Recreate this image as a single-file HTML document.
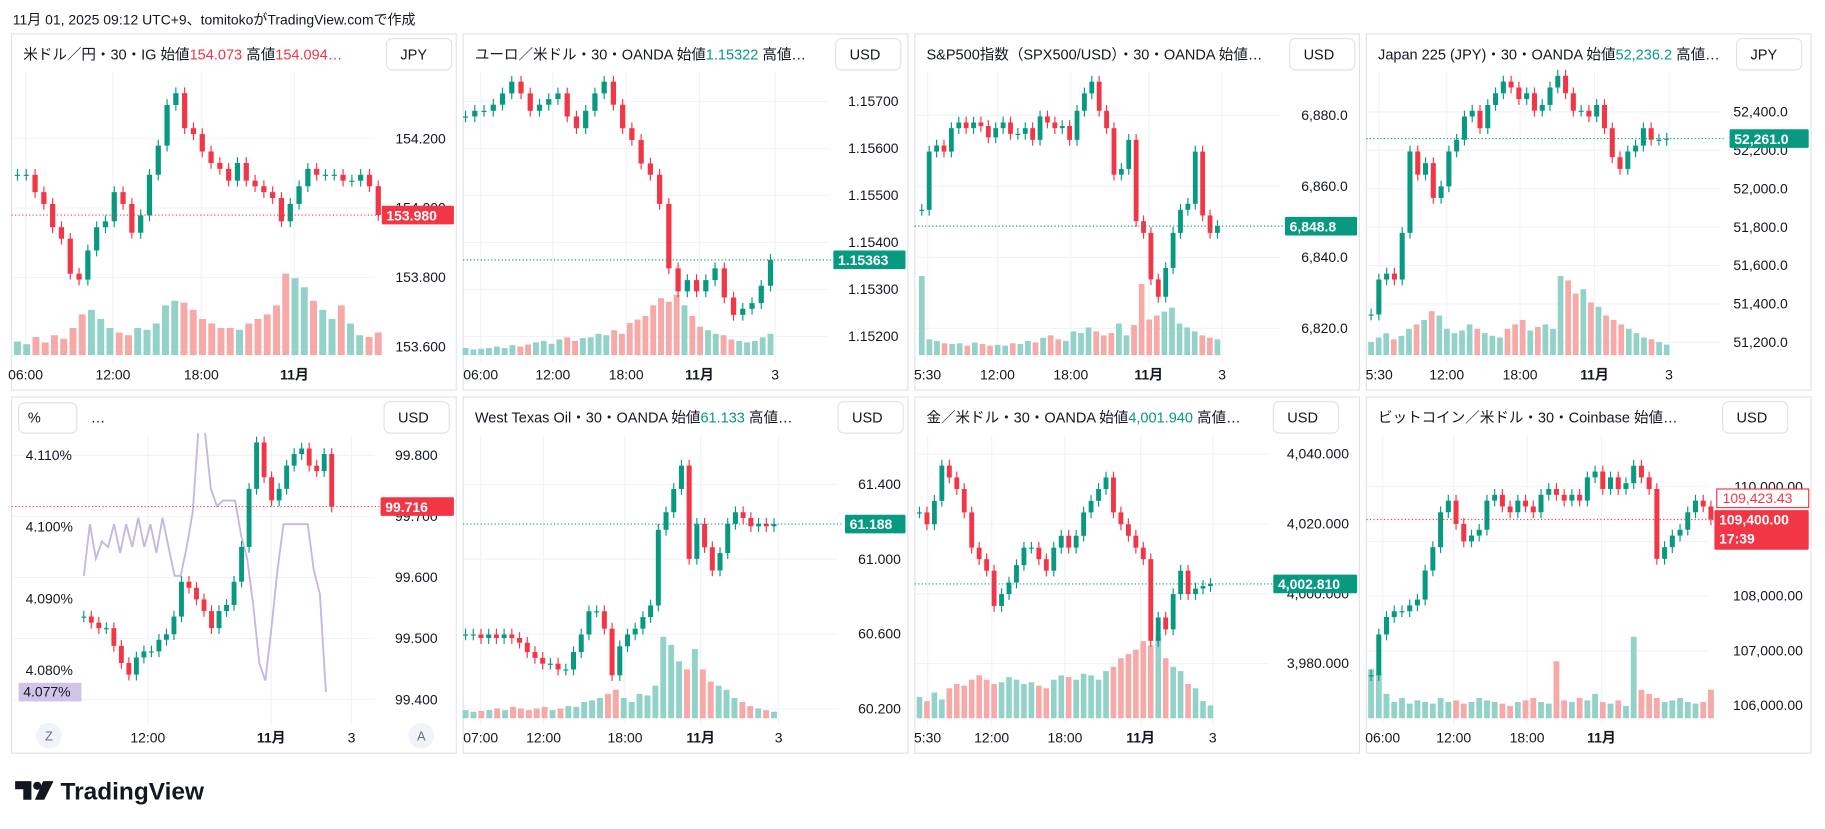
<!DOCTYPE html>
<html><head><meta charset="utf-8">
<style>
html,body{margin:0;padding:0;background:#fff;width:1825px;height:829px;overflow:hidden}
svg{display:block;font-family:"Liberation Sans","Noto Sans CJK JP",sans-serif}
</style></head>
<body>
<svg id="chart" width="1825" height="829" viewBox="0 0 1568 712" xmlns="http://www.w3.org/2000/svg">
<text x="11" y="21" font-size="12" fill="#131722">11月 01, 2025 09:12 UTC+9、tomitokoがTradingView.comで作成</text>
<g>
<path d="M13 671 h14 v16 h-7 v-9 h-7z" fill="#131722"/>
<circle cx="32" cy="675" r="3.5" fill="#131722"/>
<path d="M37 671 h9 l-8 16 h-8z" fill="#131722"/>
<text x="52" y="687" font-size="21" font-weight="bold" fill="#131722">TradingView</text>
</g>
</svg>
<script>
// ===== data =====
const p1Close=[154.096,154.096,154.046,154.012,153.945,153.912,153.811,153.794,153.878,153.945,153.962,154.046,154.012,153.929,153.979,154.096,154.180,154.297,154.331,154.230,154.213,154.163,154.130,154.113,154.079,154.130,154.079,154.063,154.046,154.029,153.962,154.012,154.063,154.113,154.096,154.096,154.096,154.079,154.079,154.096,154.063,153.980];
const p1Vol=[15,12,20,14,22,18,30,45,50,40,30,25,22,30,28,35,55,60,58,50,40,35,30,30,28,35,40,45,55,90,85,75,60,50,40,55,35,22,20,25];
const p1Ticks=[154.2,154.0,153.8,153.6];
const p1Times=['06:00','12:00','18:00','11月'];

const p2Close=[1.15668,1.1568,1.1568,1.15693,1.15717,1.15742,1.15717,1.1568,1.15693,1.15705,1.15717,1.15668,1.15643,1.1568,1.15717,1.15742,1.15693,1.15643,1.15618,1.15568,1.15544,1.15482,1.15345,1.15296,1.1532,1.15296,1.1532,1.15345,1.15283,1.15246,1.15259,1.15271,1.15308,1.15363];
const p2Vol=[10,8,9,10,12,10,14,12,15,18,20,16,22,25,20,24,25,30,28,35,30,45,50,55,70,80,75,85,70,55,40,35,30,28,22,20,18,20,25,30];
const p2Ticks=[1.157,1.156,1.155,1.154,1.153,1.152];
const p2Times=['06:00','12:00','18:00','11月','3'];

const p3Close=[6853.4,6869.8,6871.5,6869.8,6876.4,6878,6876.4,6878,6877,6873.8,6876.4,6878,6874.8,6874.8,6876.4,6873.1,6879.7,6878,6876.4,6877,6873.1,6881.3,6886.2,6889.5,6881.3,6876.4,6863.3,6864.9,6873.1,6850.2,6846.9,6833.8,6828.9,6837,6846.9,6853.4,6855.1,6869.8,6851.8,6846.9,6848.8];
const p3Vol=[100,20,18,15,14,15,12,16,14,12,13,12,15,14,18,16,22,25,20,18,30,28,35,30,25,28,40,25,38,90,45,50,55,60,40,35,30,25,22,20];
const p3Ticks=[6880,6860,6840,6820];
const p3Times=['5:30','12:00','18:00','11月','3'];

const p4Close=[51345,51527,51558,51527,51770,52194,52073,52133,51952,52012,52194,52255,52376,52406,52315,52436,52497,52558,52527,52467,52497,52406,52436,52527,52588,52497,52406,52406,52376,52436,52315,52164,52103,52194,52224,52315,52255,52255,52261];
const p4Vol=[15,20,25,18,22,30,35,40,50,45,30,25,28,35,30,25,22,20,30,35,40,28,32,35,30,90,85,70,75,60,55,45,40,35,30,25,20,18,15,12];
const p4Ticks=[52400,52200,52000,51800,51600,51400,51200];
const p4Times=['5:30','12:00','18:00','11月','3'];

const p5Close=[99.536,99.526,99.517,99.517,99.488,99.46,99.441,99.469,99.479,99.479,99.498,99.507,99.536,99.593,99.583,99.564,99.545,99.517,99.545,99.555,99.593,99.65,99.745,99.821,99.764,99.726,99.745,99.783,99.802,99.811,99.783,99.774,99.802,99.716];
const p5Yield=[4.0932,4.1004,4.0956,4.098,4.0972,4.1004,4.0964,4.1004,4.0972,4.1013,4.0972,4.1004,4.0964,4.1013,4.0972,4.0932,4.0932,4.0972,4.1021,4.1142,4.1134,4.1053,4.1029,4.1037,4.1037,4.1037,4.0988,4.0956,4.0891,4.081,4.0786,4.0859,4.094,4.1004,4.1004,4.1004,4.1004,4.1004,4.094,4.0907,4.077];
const p5Ticks=[99.8,99.7,99.6,99.5,99.4];
const p5PctTicks=[4.11,4.10,4.09,4.08];
const p5Times=['12:00','11月','3'];

const p6Close=[60.598,60.598,60.579,60.598,60.579,60.598,60.579,60.554,60.504,60.473,60.442,60.442,60.411,60.411,60.504,60.598,60.722,60.722,60.629,60.38,60.535,60.598,60.629,60.691,60.753,61.157,61.251,61.375,61.5,61.002,61.189,61.064,60.94,61.033,61.189,61.251,61.22,61.176,61.189,61.176,61.188];
const p6Vol=[10,8,9,10,12,10,14,12,10,12,14,10,12,15,14,20,22,25,30,35,25,20,30,28,40,100,90,70,60,85,60,45,40,35,25,20,15,12,10,8];
const p6Ticks=[61.4,61.0,60.6,60.2];
const p6Times=['07:00','12:00','18:00','11月','3'];

const p7Close=[4023.3,4019.9,4026.6,4036.7,4033.3,4030,4023.3,4013.2,4009.9,4006.6,3996.5,3999.9,4003.2,4008.2,4013.2,4013.2,4009.9,4006.6,4013.2,4016.6,4013.2,4016.6,4023.3,4026.6,4030,4033.3,4023.3,4019.9,4016.6,4013.2,4009.9,3986.5,3993.2,3989.8,3999.9,4006.6,3999.9,4001.5,4002.2,4002.81];
const p7Vol=[25,20,30,22,35,40,38,45,50,45,40,42,48,45,40,42,38,35,45,50,48,45,52,50,45,55,60,70,75,80,90,85,95,70,60,55,40,35,20,15];
const p7Ticks=[4040,4020,4000,3980];
const p7Times=['5:30','12:00','18:00','11月','3'];

const p8Close=[106553,107298,107617,107723,107723,107830,107936,108468,108894,109532,109745,109319,109000,109106,109213,109745,109851,109638,109532,109745,109638,109532,109851,109957,109851,109745,109851,109745,110170,110277,109957,110170,109957,110064,110383,110170,109957,108681,108894,109106,109213,109532,109745,109638,109400];
const p8Vol=[60,55,30,20,25,18,22,20,18,25,20,22,18,20,25,22,20,18,15,20,22,25,20,18,70,22,20,25,22,30,20,18,22,15,100,35,30,25,20,22,25,20,18,20,35];
const p8Ticks=[110000,109000,108000,107000,106000];
const p8Times=['06:00','12:00','18:00','11月'];

// ===== rendering =====
const NS='http://www.w3.org/2000/svg';
const svg=document.getElementById('chart');
const UP='#089981',DN='#f23645',UPV='#92d2c8',DNV='#f7a9a7';
function el(tag,attrs,parent){const e=document.createElementNS(NS,tag);for(const k in attrs)e.setAttribute(k,attrs[k]);(parent||svg).appendChild(e);return e;}
function fmt(v,dec,comma){let s=v.toFixed(dec);if(comma){const p=s.split('.');p[0]=p[0].replace(/\B(?=(\d{3})+(?!\d))/g,',');s=p.join('.');}return s;}

function panel(cfg){
  const g=el('g',{});
  
  
  const frame=el('rect',{x:cfg.x0,y:cfg.y0,width:382,height:306,fill:'#fff',stroke:'#e0e3eb','stroke-width':1},g);
  
  
  const Y=v=>cfg.ya+(v-cfg.va)*(cfg.yb-cfg.ya)/(cfg.vb-cfg.va);
  const plotR=cfg.axisX-4;
  // grid
  cfg.ticks.forEach(t=>{
    const gl=el('line',{x1:cfg.x0,x2:plotR,y1:Y(t),y2:Y(t),stroke:'#f0f3fa'},g);
    
    
  });
  cfg.timeX.forEach(x=>{
    const gl=el('line',{x1:x,x2:x,y1:cfg.y0+32,y2:cfg.y0+282,stroke:'#f0f3fa'},g);
    
    
  });
  // volumes
  const c=cfg.close,n=c.length;
  const Xc=i=>cfg.xa+i*(cfg.xb-cfg.xa)/(n-1);
  if(cfg.vol){
    const m=cfg.vol.length,vmax=Math.max(...cfg.vol);
    const w=(cfg.xb-cfg.xa)/(m-1)*0.75;
    cfg.vol.forEach((v,i)=>{
      const ci=Math.round(i*(n-1)/(m-1));const up=ci===0||c[ci]>=c[ci-1];
      const h=v/vmax*cfg.volH;const x=cfg.xa+i*(cfg.xb-cfg.xa)/(m-1);
      const r=el('rect',{x:x-w/2,y:cfg.volB-h,width:w,height:h,fill:up?UPV:DNV},g);
      
      
    });
  }
  // extra line
  if(cfg.line){
    const L=cfg.line,Yl=v=>cfg.lya+(v-cfg.lva)*(cfg.lyb-cfg.lya)/(cfg.lvb-cfg.lva);
    const pts=L.map((v,i)=>(cfg.xa+i*(cfg.lxb-cfg.xa)/(L.length-1)).toFixed(1)+','+Yl(v).toFixed(1)).join(' ');
    const pl=el('polyline',{points:pts,fill:'none',stroke:'#c5b6e3','stroke-width':1.6},g);
    
    
  }
  // candles
  const cw=Math.min(4.5,(cfg.xb-cfg.xa)/(n-1)*0.65);
  c.forEach((cl,i)=>{
    const op=i===0?cl:c[i-1];const up=cl>=op;const col=up?UP:DN;
    const yo=Y(op),yc=Y(cl),top=Math.min(yo,yc),bot=Math.max(yo,yc);const x=Xc(i);
    const wk=el('line',{x1:x,x2:x,y1:top-5,y2:bot+5,stroke:col,'stroke-width':1},g);
    
    
    const b=el('rect',{x:x-cw/2,y:top,width:cw,height:Math.max(1,bot-top),fill:col},g);
    
    
  });
  // tick labels
  cfg.ticks.forEach(t=>{
    const tx=el('text',{x:cfg.axisX+cfg.tickDx,y:Y(t)+4,'font-size':12,fill:'#131722','text-anchor':'end'},g);
    tx.textContent=fmt(t,cfg.dec,cfg.comma);
    
    
  });
  if(cfg.pctTicks){
    const Yl=v=>cfg.lya+(v-cfg.lva)*(cfg.lyb-cfg.lya)/(cfg.lvb-cfg.lva);
    cfg.pctTicks.forEach(t=>{
      const tx=el('text',{x:cfg.x0+12,y:Yl(t)+4,'font-size':12,fill:'#131722'},g);
      tx.textContent=t.toFixed(3)+'%';
      
      
    });
    const lv=cfg.line[cfg.line.length-1];
    const lb=el('rect',{x:cfg.x0+6,y:Yl(lv)-8,width:54,height:16,fill:'#d1c4e9'},g);
    
    
    const lt=el('text',{x:cfg.x0+10,y:Yl(lv)+4,'font-size':12,fill:'#131722'},g);
    lt.textContent=lv.toFixed(3)+'%';
    
    
  }
  // last price line + label
  const last=c[n-1];const ly=Y(last);const lcol=cfg.lastCol;
  const dl=el('line',{x1:cfg.x0,x2:cfg.axisX,y1:ly,y2:ly,stroke:lcol,'stroke-dasharray':'1 2'},g);
  
  
  const lr=el('rect',{x:cfg.labelX,y:ly-8,width:cfg.x0+380-cfg.labelX,height:cfg.labelH||16,fill:lcol,rx:1},g);
  
  
  const lt=el('text',{x:cfg.labelX+4,y:ly+4.5,'font-size':12,'font-weight':'bold',fill:'#fff'},g);
  lt.textContent=fmt(last,cfg.lastDec!=null?cfg.lastDec:cfg.dec,cfg.comma);
  
  
  // time labels
  cfg.times.forEach((t,i)=>{
    const tx=el('text',{x:cfg.timeX[i],y:cfg.y0+297,'font-size':12,fill:'#131722','text-anchor':'middle','font-weight':t==='11月'?'bold':'normal'},g);
    tx.textContent=t;
    
    
  });
  // title bar
  const tb=el('rect',{x:cfg.x0+1,y:cfg.y0+1,width:318,height:30,fill:'#fff'},g);
  
  
  const tt=el('text',{x:cfg.x0+10,y:cfg.y0+22,'font-size':12.5,fill:'#131722'},g);
  
  
  cfg.title.forEach(([s,col])=>{const sp=el('tspan',{fill:col||'#131722'},tt);sp.textContent=s;});
  // currency box
  const cb=el('rect',{x:cfg.x0+cfg.curX,y:cfg.y0+4,width:cfg.curW||56,height:27,rx:5,fill:'#fff',stroke:'#e0e3eb'},g);
  
  
  const ct=el('text',{x:cfg.x0+cfg.curX+12,y:cfg.y0+22,'font-size':12.5,fill:'#131722'},g);
  ct.textContent=cfg.cur;
  
  
  return g;
}

panel({name:'usdjpy-panel',x0:10,y0:29,close:p1Close,vol:p1Vol,volB:305,volH:70,xa:15,xb:325,ticks:p1Ticks,va:153.6,ya:298,vb:154.2,yb:119,dec:3,axisX:326,tickDx:57,labelX:328,lastCol:DN,
  times:p1Times,timeX:[22,97,173,253],cur:'JPY',curX:322,
  title:[['米ドル／円・30・IG  始値'],['154.073',DN],['  高値'],['154.094…',DN]]});
panel({name:'eurusd-panel',x0:398,y0:29,close:p2Close,vol:p2Vol,volB:305,volH:52,xa:400,xb:662,ticks:p2Ticks,va:1.152,ya:289,vb:1.157,yb:87,dec:5,axisX:716,tickDx:56,labelX:716,lastCol:UP,
  times:p2Times,timeX:[413,475,538,601,666],cur:'USD',curX:320,
  title:[['ユーロ／米ドル・30・OANDA  始値'],['1.15322',UP],['  高値…']]});
panel({name:'spx500-panel',x0:786,y0:29,close:p3Close,vol:p3Vol,volB:305,volH:68,xa:792,xb:1046,ticks:p3Ticks,va:6820,ya:282,vb:6880,yb:99,dec:1,comma:true,axisX:1104,tickDx:54,labelX:1104,lastCol:UP,
  times:p3Times,timeX:[797,857,920,987,1050],cur:'USD',curX:322,
  title:[['S&P500指数（SPX500/USD）・30・OANDA  始値…']]});
panel({name:'japan225-panel',x0:1174,y0:29,close:p4Close,vol:p4Vol,volB:305,volH:68,xa:1178,xb:1432,ticks:p4Ticks,va:51200,ya:294,vb:52400,yb:96,dec:1,lastDec:1,comma:true,axisX:1482,tickDx:54,labelX:1486,lastCol:UP,
  times:p4Times,timeX:[1185,1243,1306,1370,1434],cur:'JPY',curX:318,
  title:[['Japan 225 (JPY)・30・OANDA  始値'],['52,236.2',UP],['  高値…']]});
panel({name:'dxy-yield-panel',x0:10,y0:341,close:p5Close,xa:72,xb:285,ticks:p5Ticks,va:99.4,ya:601,vb:99.8,yb:391,dec:3,axisX:326,tickDx:50,labelX:327,lastCol:DN,
  line:p5Yield,lxb:280,lva:4.08,lya:576,lvb:4.11,lyb:391,pctTicks:p5PctTicks,
  times:p5Times,timeX:[127,233,302],cur:'USD',curX:320,
  title:[['']]});
panel({name:'wti-panel',x0:398,y0:341,close:p6Close,vol:p6Vol,volB:617,volH:70,xa:400,xb:665,ticks:p6Ticks,va:60.2,ya:609,vb:61.4,yb:416,dec:3,axisX:724,tickDx:50,labelX:726,lastCol:UP,
  times:p6Times,timeX:[413,467,537,602,669],cur:'USD',curX:322,
  title:[['West Texas Oil・30・OANDA  始値'],['61.133',UP],['  高値…']]});
panel({name:'gold-panel',x0:786,y0:341,close:p7Close,vol:p7Vol,volB:617,volH:70,xa:790,xb:1040,ticks:p7Ticks,va:3980,ya:570,vb:4040,yb:390,dec:3,comma:true,axisX:1094,tickDx:65,labelX:1094,lastCol:UP,
  times:p7Times,timeX:[797,852,915,980,1042],cur:'USD',curX:308,
  title:[['金／米ドル・30・OANDA  始値'],['4,001.940',UP],['  高値…']]});
panel({name:'bitcoin-panel',x0:1174,y0:341,close:p8Close,vol:p8Vol,volB:617,volH:70,xa:1178,xb:1470,ticks:p8Ticks,va:106000,ya:606,vb:110000,yb:418,dec:2,comma:true,axisX:1473,tickDx:76,labelX:1473,labelH:34,lastCol:DN,
  times:p8Times,timeX:[1188,1249,1312,1376],cur:'USD',curX:306,
  title:[['ビットコイン／米ドル・30・Coinbase  始値…']]});

// extras: DXY panel controls
(function(){
  const g=svg;
  const pb=el('rect',{x:16,y:346,width:50,height:26,rx:5,fill:'#fff',stroke:'#e0e3eb'});
  
  
  const pt=el('text',{x:24,y:363,'font-size':12.5,fill:'#131722'});pt.textContent='%';
  
  
  const dt=el('text',{x:78,y:363,'font-size':12.5,fill:'#131722'});dt.textContent='…';
  
  
  [['Z',42],['A',362]].forEach(([s,x])=>{
    const c=el('circle',{cx:x,cy:632,r:11,fill:'#f0f3fa'});
    
    
    const t=el('text',{x:x,y:636,'font-size':11,fill:'#6a6d78','text-anchor':'middle'});t.textContent=s;
    
    
  });
  // BTC outlined label & countdown
  const ob=el('rect',{x:1475,y:420,width:79,height:16,fill:'#fff',stroke:DN});
  
  
  const ot=el('text',{x:1480,y:432,'font-size':12,fill:DN});ot.textContent='109,423.43';
  
  
  const cd=el('text',{x:1477,y:467,'font-size':12,'font-weight':'bold',fill:'#fff'});cd.textContent='17:39';
  
  
})();
</script>
</body></html>
